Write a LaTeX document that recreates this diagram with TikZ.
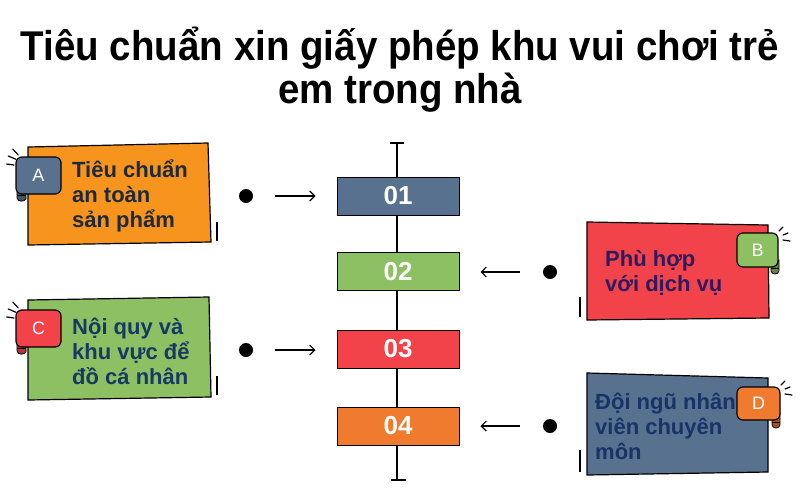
\documentclass[tikz,border=0pt]{standalone}
\usepackage{fontspec}
\setmainfont{Liberation Sans}
\usetikzlibrary{arrows.meta}

\definecolor{slate}{HTML}{57718F}
\definecolor{leaf}{HTML}{8DBF63}
\definecolor{cherry}{HTML}{F2434A}
\definecolor{tangerine}{HTML}{F07A2E}
\definecolor{amber}{HTML}{F7941D}
\definecolor{inkA}{HTML}{1E2A3C}
\definecolor{inkB}{HTML}{2E1A5E}
\definecolor{inkC}{HTML}{173A63}
\definecolor{inkD}{HTML}{183366}

\tikzset{
  numbox/.style={draw=black, line width=1pt, minimum width=122pt, minimum height=38pt,
    inner sep=0pt, text=white, font=\bfseries\fontsize{26}{26}\selectfont},
  dot/.style={circle, fill=black, minimum size=14pt, inner sep=0pt},
  arr/.style={line width=1.2pt, -{Straight Barb[length=5pt,width=10pt]}},
  card/.style={draw=black, line width=1.2pt},
  tab/.style={draw=black, line width=1.2pt, rounded corners=6pt},
  curl/.style={draw=black, line width=0.8pt},
  tabletter/.style={text=white, font=\fontsize{18}{18}\selectfont},
  cardtext/.style={anchor=west, align=left, inner sep=0pt, font=\bfseries\fontsize{22}{25}\selectfont},
  spark/.style={line width=1.2pt, line cap=round},
}

\begin{document}
\begin{tikzpicture}[x=1pt, y=-1pt]
        \useasboundingbox (0,0) rectangle (800,490);

        \node[align=center, font=\bfseries\fontsize{38.5}{40}\selectfont, yscale=1.08] (title) at (400,70)
            {Tiêu chuẩn xin giấy phép khu vui chơi trẻ\\em trong nhà};

        % center line
        \coordinate (top) at (397,143);
        \coordinate (bot) at (397,480);
        \draw[line width=1.5pt] (top) -- (bot);
        \draw[line width=1.5pt] ([xshift=-7pt]top) -- ([xshift=7pt]top);
        \draw[line width=1.5pt] ([xshift=-6pt]bot) -- ([xshift=9pt]bot);

        \node[numbox, fill=slate] (n01) at (398,196) {01};
        \node[numbox, fill=leaf] (n02) at (398,271.5) {02};
        \node[numbox, fill=cherry] (n03) at (398,349) {03};
        \node[numbox, fill=tangerine] (n04) at (398,426) {04};

        \node[dot] (dA) at (246,196) {};
        \node[dot] (dC) at (246,350) {};
        \node[dot] (dB) at (550,272) {};
        \node[dot] (dD) at (550,426) {};

        \draw[arr, shorten <=22pt, shorten >=21pt] (dA) -- (dA -| n01.west);
        \draw[arr, shorten <=22pt, shorten >=21pt] (dC) -- (dC -| n03.west);
        \draw[arr, shorten <=23pt, shorten >=21pt] (dB) -- (dB -| n02.east);
        \draw[arr, shorten <=23pt, shorten >=21pt] (dD) -- (dD -| n04.east);

        % card A
        \filldraw[card, fill=amber] (28,147) -- (208,143) -- (211,242) -- (28,245) -- cycle;
        \node[cardtext, text=inkA] (tA) at (72,196) {Tiêu chuẩn\\an toàn\\sản phẩm};
        \filldraw[curl, fill=slate!75!black] (17,188) -- (17,198) .. controls (18,202) and (24,202) .. (26,199) -- (26,190) -- cycle;
        \draw[curl] (17,195) -- (26,195);
        \filldraw[tab, fill=slate] (16,157) rectangle (61,194);
        \node[tabletter] (lA) at (38.5,175.5) {A};
        \draw[spark] (12.7,149) -- (18.3,155);
        \draw[spark] (8.3,156) -- (16,159.3);
        \draw[spark] (6.7,164) -- (14,165);
        \draw[line width=1.5pt] (217,222) -- (217,241);

        % card C
        \filldraw[card, fill=leaf] (28,300) -- (209,297) -- (211,397) -- (28,400) -- cycle;
        \node[cardtext, text=inkC] (tC) at (72,351) {Nội quy và\\khu vực để\\đồ cá nhân};
        \filldraw[curl, fill=cherry!75!black] (17,341) -- (17,351) .. controls (18,355) and (24,355) .. (26,352) -- (26,343) -- cycle;
        \draw[curl] (17,348) -- (26,348);
        \filldraw[tab, fill=cherry] (16,310) rectangle (61,347);
        \node[tabletter] (lC) at (38.5,328.5) {C};
        \draw[spark] (12.7,302) -- (18.3,308);
        \draw[spark] (8.3,309) -- (16,312.3);
        \draw[spark] (6.7,317) -- (14,318);
        \draw[line width=1.5pt] (217,376) -- (217,395);

        % card B
        \filldraw[card, fill=cherry] (587,222) -- (768,225) -- (769,318) -- (587,320) -- cycle;
        \node[cardtext, text=inkB] (tB) at (605,273) {Phù hợp\\với dịch vụ};
        \filldraw[curl, fill=leaf!70!black] (771,262) -- (771,271) .. controls (772,275) and (778,275) .. (779,271) -- (779,260) -- cycle;
        \draw[curl] (771,268) -- (779,268);
        \filldraw[tab, fill=leaf] (737,233) rectangle (778,267);
        \node[tabletter] (lB) at (757.5,250) {B};
        \draw[spark] (779,231) -- (783,227);
        \draw[spark] (783,235) -- (788,233);
        \draw[spark] (783,240) -- (790,241);
        \draw[line width=1.5pt] (580,297) -- (580,317);

        % card D
        \filldraw[card, fill=slate] (587,373) -- (768,378) -- (768,472) -- (587,475) -- cycle;
        \node[cardtext, text=inkD] (tD) at (595,426) {Đội ngũ nhân\\viên chuyên\\môn};
        \filldraw[curl, fill=tangerine!70!black] (772,416) -- (772,425) .. controls (773,429) and (779,429) .. (780,425) -- (780,414) -- cycle;
        \draw[curl] (772,422) -- (780,422);
        \filldraw[tab, fill=tangerine] (737,387) rectangle (780,420);
        \node[tabletter] (lD) at (758.5,403.5) {D};
        \draw[spark] (781,385) -- (785,381);
        \draw[spark] (785,389) -- (790,387);
        \draw[spark] (785,394) -- (792,395);
        \draw[line width=1.5pt] (580,450) -- (580,472);
\end{tikzpicture}
\end{document}
